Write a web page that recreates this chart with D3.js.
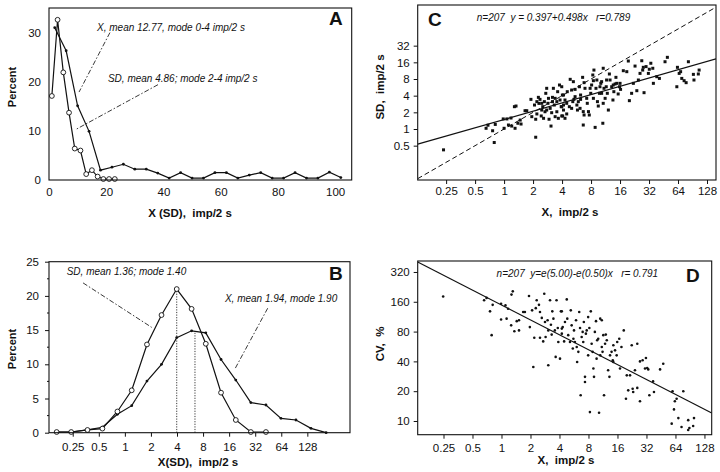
<!DOCTYPE html>
<html><head><meta charset="utf-8">
<script src="https://cdn.jsdelivr.net/npm/d3@7"></script>
<style>
body{margin:0;background:#fff}
svg text{font-family:"Liberation Sans",Arial,Helvetica,sans-serif;fill:#111;white-space:pre}
</style></head>
<body><svg id="chart" width="720" height="472"></svg>
<script>
// ---------- Panel A : linear distributions ----------
const aXBins = [2,6,10,14,18,22,26,30,34,38,42,46,50,54,58,62,66,70,74,78,82,86,90,94,98,102];
const aXPct  = [31,26.3,15.1,9.9,2.0,2.6,3.2,2.2,2.2,1.4,0.4,1.5,0.4,0.4,1.5,1.5,0.4,1.0,1.5,0.4,0.4,1.5,0.4,0.4,1.6,0.5];
const aSDBins = [1,3,5,7,9,11,13,15,17,19,21,23];
const aSDPct  = [17.1,32.6,21.9,13.7,6.4,6.0,1.2,2.0,0.7,0.2,0.2,0.2];
const aXTicks = [0,20,40,60,80,100];
const aYTicks = [0,10,20,30];

// ---------- Panel B : log-binned distributions ----------
const bBins  = [0.163,0.24,0.37,0.55,0.82,1.2,1.8,2.65,3.97,5.9,8.6,12.9,19.1,28.5,42.6,63.5,94.6,141,211];
const bSDPct = [0.1,0.1,0.4,0.6,3.1,6.2,12.9,17.2,21.0,18.1,13.0,5.85,1.86,0.1,0.1];
const bXPct  = [0.1,0.1,0.4,0.8,2.7,3.95,7.55,10.0,13.9,14.9,14.6,10.7,7.7,4.4,4.05,2.1,1.86,0.64,0];
const bModeX   = [3.97,6.45];
const bModePct = [21.0,14.6];
const logTicks = [0.25,0.5,1,2,4,8,16,32,64,128];
const bYTicks = [0,5,10,15,20,25];
const bYMinor = [2.5,7.5,12.5,17.5,22.5];

// ---------- Panel C : SD vs X ----------
const cX = [0.235,0.65,0.68,0.81,0.76,0.79,0.98,1.07,1.18,1.0,1.11,1.2,1.28,1.33,1.3,1.39,1.5,1.47,1.65,1.72,1.9,1.94,2.13,2.13,2.07,2.19,2.27,2.36,2.43,2.57,2.46,2.62,2.71,2.77,2.85,2.89,3.01,3.07,3.12,3.18,3.25,3.39,3.53,3.6,3.66,3.76,3.92,3.97,4.03,4.14,2.3,2.52,2.77,3.32,3.53,2.93,2.19,3.39,2.66,3.18,3.81,2.46,
3.97,4.14,4.29,3.97,4.14,4.06,4.47,4.53,4.86,5.24,5.03,5.46,5.17,5.7,5.9,5.78,6.15,6.23,6.54,6.77,6.92,6.64,6.77,6.64,7.21,7.31,7.52,7.67,7.94,8.11,8.34,8.57,8.46,8.82,9.0,9.32,9.51,9.78,10.1,10.3,10.6,10.7,10.9,11.2,11.5,11.8,12.1,12.4,12.6,13.1,13.5,13.8,14.2,14.8,15.3,15.8,16,16.2,17.3,18.8,19.5,20,21.1,22,22.9,23.9,24.8,25.8,26.9,27.5,27.9,28.4,29.8,31.5,32.2,33.4,35,35.5,38.5,41,46.9,49.6,63.1,62.2,65.8,68.1,70,74,77.7,82,92.4,93.7,104,106,
5.46,6.06,6.23,7.82,9.9,10.3,11.6,13.6,14.5,4.47,4.76,5.03,5.31,4.29,8.46,10.7,9.19];
const cSD = [0.42,1.03,1.17,1.21,0.93,0.57,1.52,1.52,1.58,1.03,1.18,1.13,2.53,2.6,1.03,1.27,1.23,1.45,2.14,2.14,3.43,1.67,1.5,0.71,2.71,3.12,3.73,3.43,1.72,1.56,2.91,3.12,4.41,5.43,2.91,3.58,2.36,1.13,1.97,3.12,5.43,3.58,3.12,4.72,1.56,6.23,2.53,1.72,4.11,2.71,2.9,2.53,2.2,2.71,2.05,1.5,1.87,1.67,2.05,3.73,3.34,2.2,
5.8,4.11,3.34,2.53,2.2,1.72,1.87,4.72,7.89,7.16,5.06,3.84,3.12,2.71,3.12,2.2,2.36,4.11,8.57,6.87,5.43,2.06,1.79,1.18,3.58,2.91,2.06,1.79,4.41,6.23,9.45,11.6,7.46,1.07,5.43,3.12,2.6,4.41,6.68,7.16,1.27,12.5,5.43,3.58,5.8,4.41,2.2,9.85,7.67,5.8,3.34,4.72,6.5,6.68,4.29,5.8,6.68,5.2,11.3,10.85,16.9,3.25,4.41,6.68,13.7,4.92,7.67,10.1,17.1,11.6,13,4.53,13.4,10.1,12,15.4,12.5,6.68,8.8,8.2,16.4,19.7,13,5.8,10.1,10.85,8.2,7.46,6.87,16.4,9.7,7.67,9.85,11.6,
5.2,5.8,3.43,5.43,5.8,4.41,7.67,6.23,8.57,2.91,2.53,2.36,3.43,1.56,3.58,2.91,7.67];
const cYTicks = [0.5,1,2,4,8,16,32];
const cFitA = 0.397, cFitB = 0.498;

// ---------- Panel D : CV vs X ----------
const dX = [0.248,0.66,0.70,0.76,0.81,0.79,0.99,0.99,1.1,1.13,1.17,1.26,1.27,1.31,1.36,1.44,1.52,1.52,1.68,1.75,1.93,1.97,2.08,2.19,2.14,2.27,2.32,2.45,2.51,2.51,2.62,2.71,2.78,2.83,2.87,3.06,3.06,3.19,3.26,3.32,3.37,3.58,3.65,3.73,3.89,4.05,4.14,4.23,3.84,3.46,3.01,
4.76,4.23,4.32,4.23,4.56,4.47,4.82,4.93,5.24,5.35,5.5,5.66,5.78,5.94,6.1,6.28,6.41,6.54,6.64,6.8,6.96,7.16,7.36,7.36,7.52,7.67,7.94,8.17,8.28,8.46,8.63,8.82,9.0,9.13,9.32,9.58,9.85,10.1,10.3,10.6,11,11,11.2,11.6,11.9,12.1,12.4,12.8,13.2,13.4,13.9,14.3,14.5,15.1,15.7,15.9,16.7,17.6,18.6,20,19.6,20.7,21.6,23,22.5,23.3,24.3,25.7,25.7,27.4,27.4,29.2,30.9,31.6,32.6,33.4,34.3,37.5,38.3,44.3,47.8,59.7,63.1,61.8,58.5,65.8,68.6,74,77.2,86.8,89.3,99.7,97.7,86.8,
5.14,5.58,6.04,7.06,7.94,9.71,10.6,11.4,14.5,17];
const dCV = [181,166,175,128,149,73.6,153,106,147,108,136,92.5,189,204,80.6,102,104,82.2,126,126,183,88.8,131,69.2,35.1,138,166,149,126,69.2,110,63.7,193,100,70.6,36.5,82.2,166,93.8,74.6,128,82.2,44.4,166,62.8,42.6,128,85.7,87,108,104,
169,128,88.8,76.2,100,63.7,108,73.6,131,92.5,53.9,82.2,62.8,104,39.4,49.9,126,87,18.2,70.6,79.4,100,27.9,24.8,76.2,82.2,112,87,12.3,128,60.2,49.9,33.9,27.9,79.4,102,65.4,67.7,12.1,108,55.8,104,49.9,18.2,60.2,74.6,65.4,32.5,27.9,46,49.9,41.1,58.2,51.7,46,62.8,67.7,55.8,82.2,28.9,16.8,20.4,28.9,21.2,58.2,19.6,32.5,60.2,21.6,15.8,40,41.1,33.9,43.2,34.3,33.2,18.2,25.1,19.6,33.2,37.8,20,15.8,13.1,9.4,16.8,10.7,8.7,20,10.2,8.5,10.7,8.9,8.1,
62.8,67.7,55.8,62.8,46,42.6,46,73.6,39.4,33.9];
const dYTicks = [10,20,40,80,160,320];
const dFitA = 5.00, dFitB = -0.50;

// ================= drawing =================
const svg = d3.select("#chart");
const fmt = d => String(d);

function frame(x, y){
  const [x0,x1] = x.range(), [y0,y1] = y.range();
  svg.append("rect").attr("x",x0).attr("y",y1).attr("width",x1-x0).attr("height",y0-y1)
     .attr("fill","none").attr("stroke","#111").attr("stroke-width",1.1);
}
function axes(x, y, xt, yt, o){
  const gx = svg.append("g").attr("transform",`translate(0,${y.range()[0]})`)
    .call(d3.axisBottom(x).tickValues(xt).tickFormat(fmt).tickSize(o.ts).tickPadding(o.xp));
  const gy = svg.append("g").attr("transform",`translate(${x.range()[0]},0)`)
    .call(d3.axisLeft(y).tickValues(yt).tickFormat(fmt).tickSize(o.ts).tickPadding(o.yp));
  [gx,gy].forEach(g=>{
    g.select(".domain").remove();
    g.selectAll("line").attr("stroke","#111");
    g.selectAll("text").style("font-size","11.5px").attr("fill","#111");
  });
}
function title(x, y, txt, rot, size){
  const t = svg.append("text").attr("text-anchor","middle").style("font-weight","bold")
    .style("font-size",(size||11.5)+"px").text(txt);
  if(rot) t.attr("transform",`translate(${x},${y}) rotate(-90)`); else t.attr("x",x).attr("y",y);
}
function letter(x, y, txt){
  svg.append("text").attr("x",x).attr("y",y).style("font-weight","bold").style("font-size","19px").text(txt);
}
function note(x, y, txt){
  svg.append("text").attr("x",x).attr("y",y).style("font-style","italic").style("font-size","10px").text(txt);
}
function leader(p1, p2){
  svg.append("line").attr("x1",p1[0]).attr("y1",p1[1]).attr("x2",p2[0]).attr("y2",p2[1])
    .attr("stroke","#222").attr("stroke-width",0.9).attr("stroke-dasharray","5,2,1.5,2");
}
function series(x, y, xs, ys, open){
  const pts = ys.map((v,i)=>[x(xs[i]), y(v)]);
  svg.append("path").attr("d", d3.line()(pts)).attr("fill","none").attr("stroke","#111").attr("stroke-width",1.2);
  svg.append("g").selectAll("circle").data(pts).join("circle")
    .attr("cx",d=>d[0]).attr("cy",d=>d[1]).attr("r", open?2.4:1.4)
    .attr("fill", open?"#fff":"#111").attr("stroke","#111").attr("stroke-width", open?0.9:0);
}

// ---- A ----
{
  const x = d3.scaleLinear().domain([0,105.8]).range([49,351.7]);
  const y = d3.scaleLinear().domain([0,35]).range([180,8]);
  axes(x,y,aXTicks,aYTicks,{ts:0,xp:8,yp:8});
  series(x,y,aXBins,aXPct,false);
  series(x,y,aSDBins,aSDPct,true);
  frame(x,y);
  note(x(16.8), y(30.4), "X, mean 12.77, mode 0-4 imp/2 s");
  leader([x(21.3),y(30.0)],[x(10.5),y(17.9)]);
  note(x(20.6), y(19.9), "SD, mean 4.86; mode 2-4 imp/2 s");
  leader([x(38.1),y(19.4)],[x(9.1),y(10.2)]);
  letter(329,25,"A");
  title(190,217,"X (SD),  imp/2 s");
  title(16,87,"Percent",true,11);
}
// ---- B ----
{
  const x = d3.scaleLog().base(2).domain([0.133,398]).range([49,350]);
  const y = d3.scaleLinear().domain([0,25]).range([432.7,261.7]);
  axes(x,y,logTicks,bYTicks,{ts:4,xp:6,yp:6});
  svg.append("g").selectAll("line").data(bYMinor).join("line")
    .attr("x1",x.range()[0]-2).attr("x2",x.range()[0]).attr("y1",d=>y(d)).attr("y2",d=>y(d)).attr("stroke","#111");
  svg.append("g").selectAll("line").data(bModeX).join("line")
    .attr("x1",d=>x(d)).attr("x2",d=>x(d)).attr("y1",y(0)).attr("y2",(d,i)=>y(bModePct[i]))
    .attr("stroke","#222").attr("stroke-width",0.9).attr("stroke-dasharray","1.2,1.4");
  series(x,y,bBins.slice(0,bXPct.length),bXPct,false);
  series(x,y,bBins.slice(0,bSDPct.length),bSDPct,true);
  frame(x,y);
  note(x(0.213), y(23.0), "SD, mean 1.36; mode 1.40");
  leader([x(0.329),y(21.9)],[x(2.04),y(15.4)]);
  note(x(14.3), y(19.1), "X, mean 1.94, mode 1.90");
  leader([x(44.6),y(18.2)],[x(18.8),y(9.4)]);
  letter(329,279.5,"B");
  title(198,466,"X(SD),  imp/2 s");
  title(16,349,"Percent",true,11);
}
// ---- C ----
{
  const x = d3.scaleLog().base(2).domain([Math.pow(2,-2.98),Math.pow(2,7.31)]).range([417.7,716]);
  const y = d3.scaleLog().base(2).domain([Math.pow(2,-3.06),Math.pow(2,7.44)]).range([180,5]);
  axes(x,y,logTicks,cYTicks,{ts:4,xp:3,yp:4});
  const clipId="clipC";
  svg.append("clipPath").attr("id",clipId).append("rect").attr("x",417.7).attr("y",5).attr("width",298.3).attr("height",175);
  const xd = x.domain();
  svg.append("line").attr("clip-path",`url(#${clipId})`)
    .attr("x1",x(xd[0])).attr("y1",y(xd[0])).attr("x2",x(xd[1])).attr("y2",y(xd[1]))
    .attr("stroke","#111").attr("stroke-width",1).attr("stroke-dasharray","5,3");
  const fit = v => Math.exp(cFitA)*Math.pow(v,cFitB);
  svg.append("line").attr("clip-path",`url(#${clipId})`)
    .attr("x1",x(xd[0])).attr("y1",y(fit(xd[0]))).attr("x2",x(xd[1])).attr("y2",y(fit(xd[1])))
    .attr("stroke","#111").attr("stroke-width",1.2);
  svg.append("g").selectAll("rect").data(cX).join("rect")
    .attr("x",(d)=>x(d)-1.5).attr("y",(d,i)=>y(cSD[i])-1.5).attr("width",3).attr("height",3).attr("fill","#111");
  frame(x,y);
  note(x(0.52), y(89), "n=207  y = 0.397+0.498x   r=0.789");
  letter(428,26,"C");
  title(570,216,"X,  imp/2 s");
  title(384,87,"SD,  imp/2 s",true);
}
// ---- D ----
{
  const x = d3.scaleLog().base(2).domain([Math.pow(2,-2.89),Math.pow(2,7.25)]).range([417.7,711.7]);
  const y = d3.scaleLog().base(2).domain([7.27,413]).range([434.7,261]);
  axes(x,y,logTicks,dYTicks,{ts:4,xp:5,yp:4});
  svg.append("clipPath").attr("id","clipD").append("rect").attr("x",417.7).attr("y",261).attr("width",294).attr("height",173.7);
  const xd = x.domain();
  const fit = v => Math.exp(dFitA)*Math.pow(v,dFitB);
  svg.append("line").attr("clip-path","url(#clipD)")
    .attr("x1",x(xd[0])).attr("y1",y(fit(xd[0]))).attr("x2",x(xd[1])).attr("y2",y(fit(xd[1])))
    .attr("stroke","#111").attr("stroke-width",1.2);
  svg.append("g").selectAll("circle").data(dX).join("circle")
    .attr("cx",d=>x(d)).attr("cy",(d,i)=>y(dCV[i])).attr("r",1.3).attr("fill","#111");
  frame(x,y);
  note(x(0.89), y(288), "n=207  y=e(5.00)-e(0.50)x   r= 0.791");
  letter(686,281.5,"D");
  title(566,464,"X,  imp/2 s");
  title(384,344,"CV,  %",true);
}
</script></body></html>
